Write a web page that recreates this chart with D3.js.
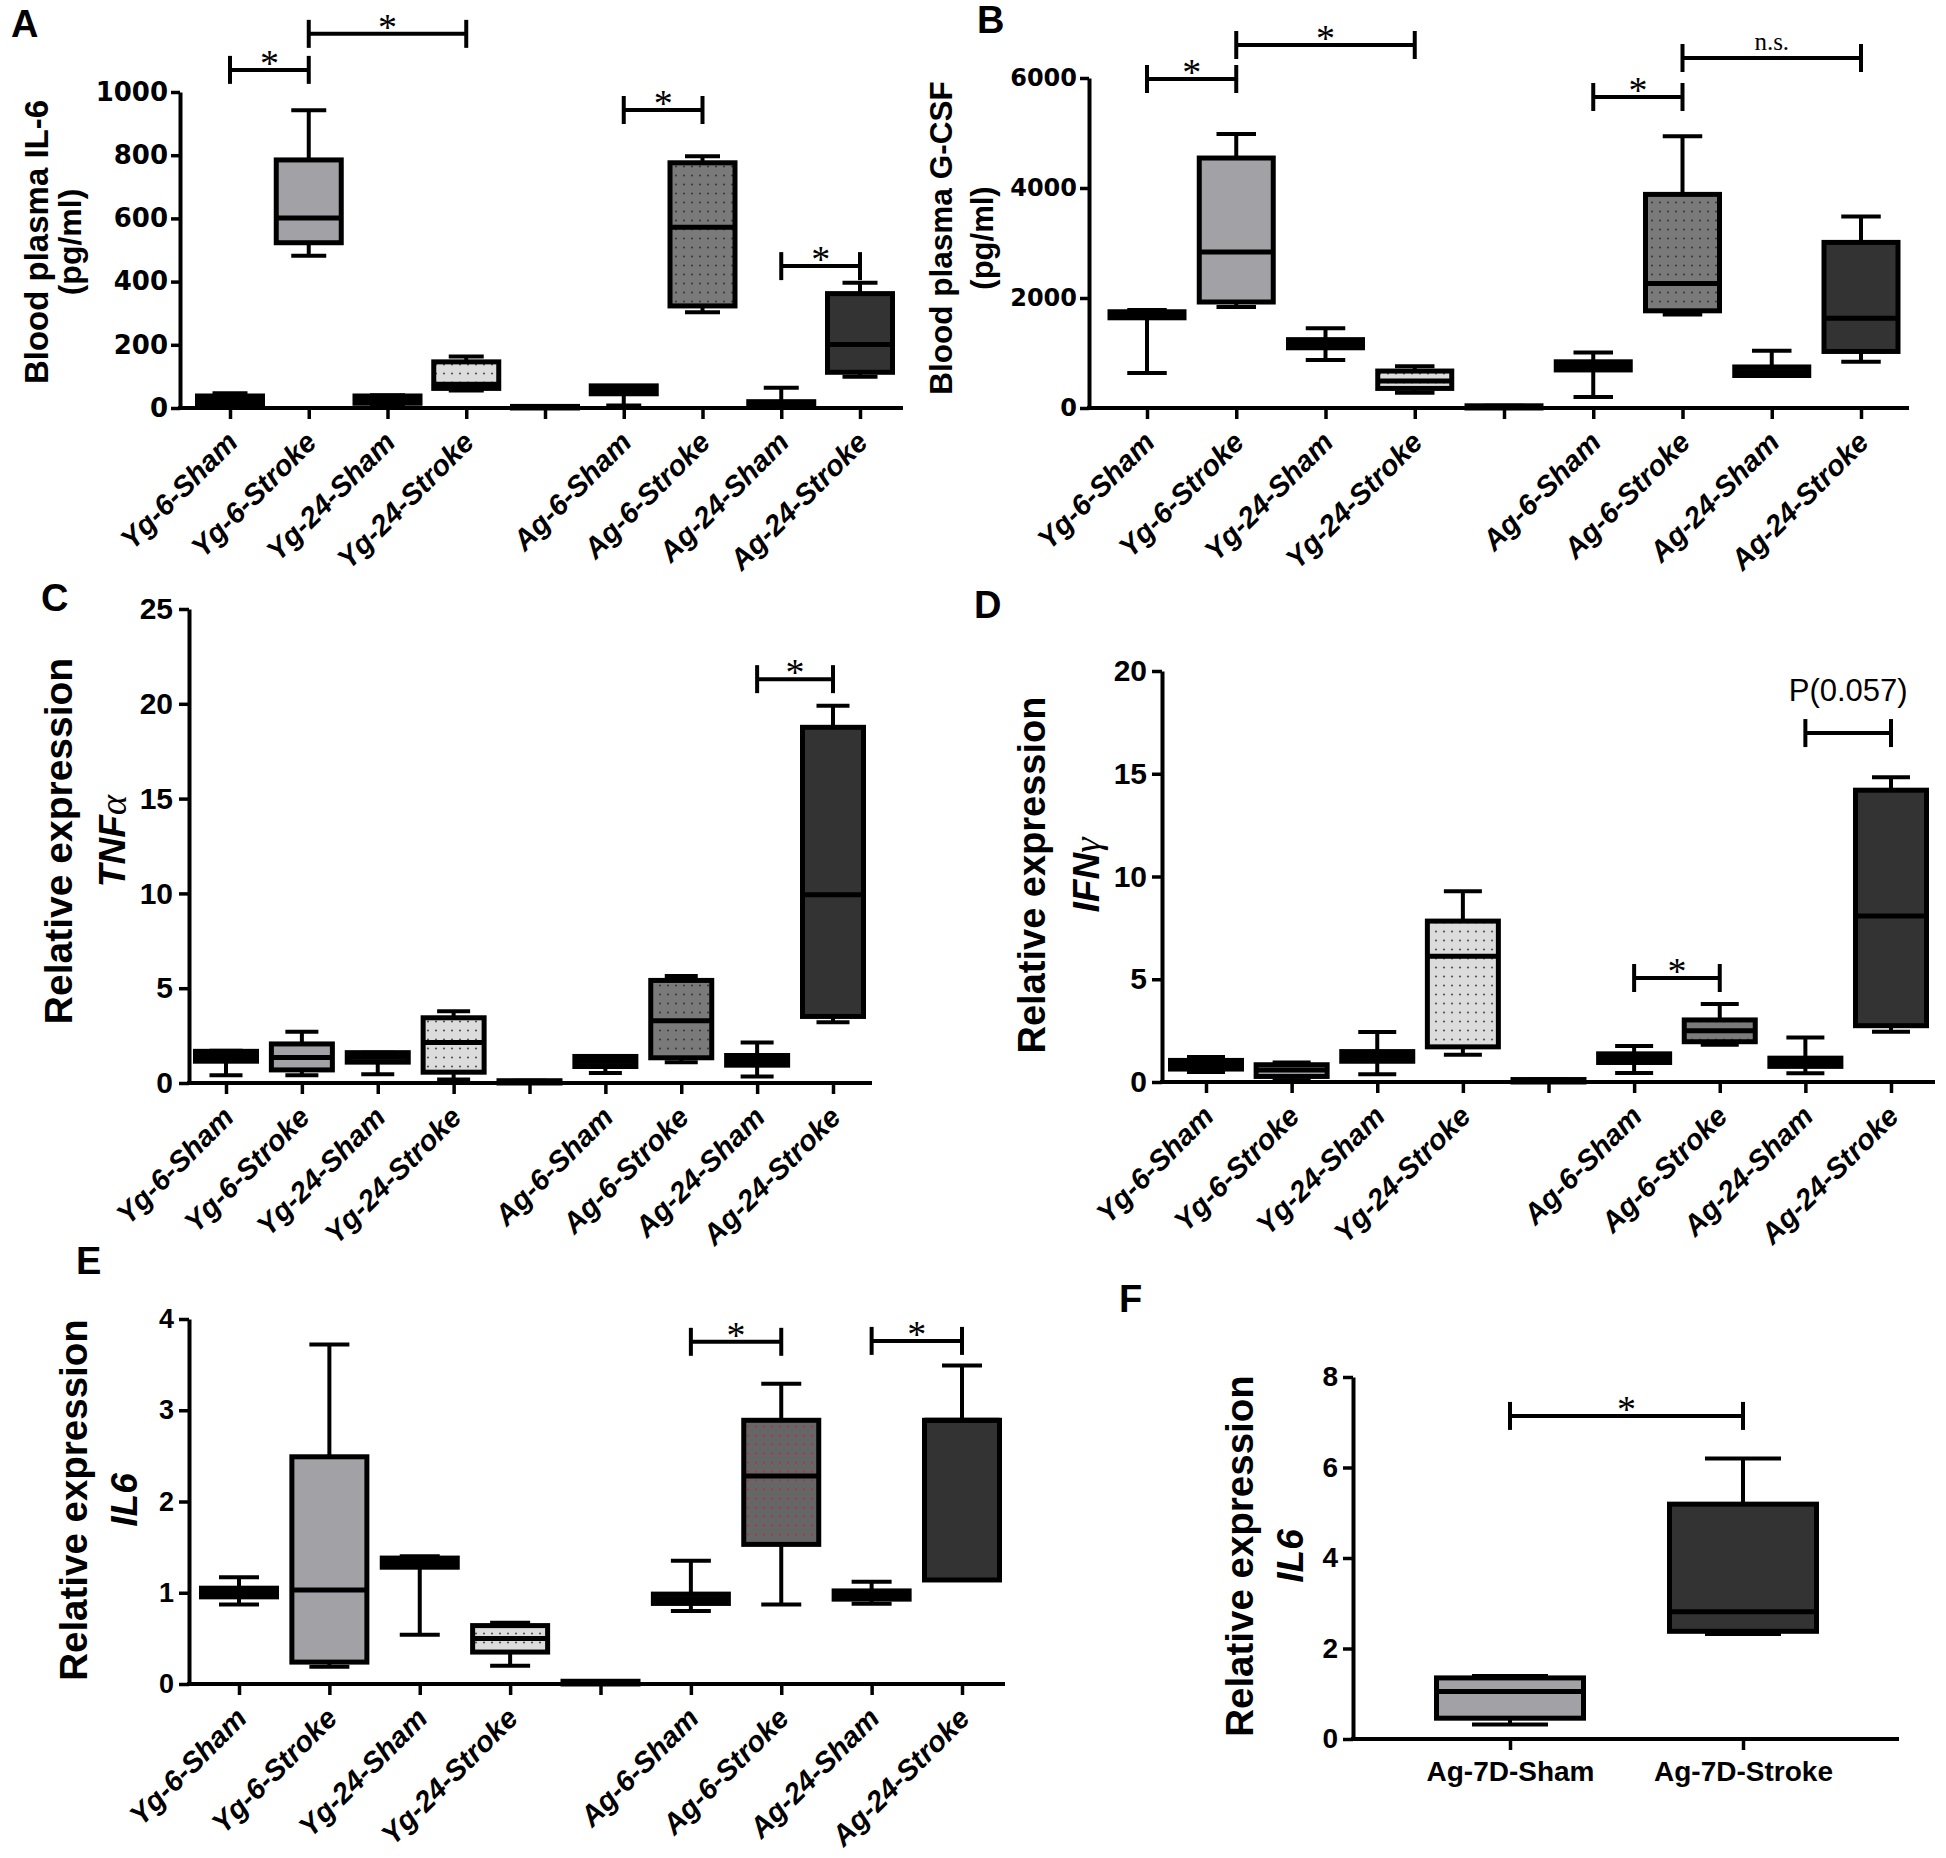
<!DOCTYPE html>
<html><head><meta charset="utf-8">
<script src="https://cdn.jsdelivr.net/npm/d3@7"></script>
<style>body{margin:0;background:#fff}</style>
</head><body>
<svg id="fig" width="1946" height="1858" xmlns="http://www.w3.org/2000/svg"></svg>
<script>
// ---------------- DATA ----------------
const categories = ["Yg-6-Sham","Yg-6-Stroke","Yg-24-Sham","Yg-24-Stroke","","Ag-6-Sham","Ag-6-Stroke","Ag-24-Sham","Ag-24-Stroke"];
const categories7d = ["Ag-7D-Sham","Ag-7D-Stroke"];
// box values: [min, q1, median, q3, max]
const plasmaIL6 = [[5,13,28,38,47],[482,523,601,785,942],[3,15,28,38,40],[55,62,75,146,163],[0,0,2,5,5],[8,45,58,70,70],[303,323,572,776,797],[0,6,12,20,64],[99,113,201,362,396]];
const plasmaGCSF = [[636,1640,1700,1750,1780],[1836,1927,2836,4545,4980],[874,1095,1180,1243,1452],[276,356,490,672,760],[0,0,20,40,40],[202,692,770,840,1008],[1700,1767,2265,3884,4940],[591,591,650,746,1042],[840,1028,1633,3011,3481]];
const exprTNF = [[0.41,1.15,1.4,1.67,1.7],[0.41,0.69,1.35,2.06,2.7],[0.46,1.1,1.4,1.6,1.6],[0.18,0.57,2.13,3.44,3.78],[0,0,0.05,0.12,0.12],[0.53,0.87,1.15,1.4,1.4],[1.1,1.33,3.28,5.41,5.64],[0.34,0.94,1.2,1.45,2.13],[3.21,3.51,9.93,18.76,19.9]];
const exprIFN = [[0.49,0.63,0.85,1.05,1.22],[0.06,0.27,0.59,0.84,0.95],[0.38,1.01,1.25,1.48,2.43],[1.33,1.71,6.12,7.83,9.28],[0,0,0.05,0.12,0.12],[0.44,0.95,1.15,1.37,1.75],[1.81,1.96,2.5,3.02,3.8],[0.42,0.76,0.95,1.16,2.17],[2.45,2.74,8.08,14.2,14.83]];
const exprIL6 = [[0.87,0.955,1.0,1.05,1.17],[0.19,0.24,1.03,2.49,3.72],[0.54,1.28,1.33,1.38,1.40],[0.2,0.35,0.5,0.64,0.67],[0,0,0.01,0.03,0.03],[0.8,0.883,0.93,0.985,1.35],[0.87,1.53,2.28,2.89,3.29],[0.88,0.93,0.97,1.02,1.12],[1.14,1.14,2.89,2.89,3.49]];
const exprIL6_7d = [[0.32,0.46,1.05,1.35,1.39],[2.32,2.38,2.81,5.19,6.2]];
// tick values
const ticksA = [0,200,400,600,800,1000];
const ticksB = [0,2000,4000,6000];
const ticksC = [0,5,10,15,20,25];
const ticksD = [0,5,10,15,20];
const ticksE = [0,1,2,3,4];
const ticksF = [0,2,4,6,8];
// significance brackets: [fromIndex, toIndex, yValue, label]
const bracketsA = [[0,1,1070,"*"],[1,3,1184,"*"],[5,6,943,"*"],[7,8,449,"*"]];
const bracketsB = [[0,1,5982,"*"],[1,3,6600,"*"],[5,6,5655,"*"],[6,8,6364,"n.s."]];
const bracketsC = [[7,8,21.3,"*"]];
const bracketsD = [[5,6,5.06,"*"],[7,8,16.98,"P(0.057)"]];
const bracketsE = [[5,6,3.75,"*"],[7,8,3.76,"*"]];
const bracketsF = [[0,1,7.14,"*"]];

// ---------------- DRAWING ----------------
const svg = d3.select("#fig");
const defs = svg.append("defs");
function dots(id, bg, dot, w, h, r){
  const p = defs.append("pattern").attr("id",id).attr("patternUnits","userSpaceOnUse").attr("width",w).attr("height",h);
  p.append("rect").attr("width",w).attr("height",h).attr("fill",bg);
  p.append("circle").attr("cx",w/2).attr("cy",h/2).attr("r",r).attr("fill",dot);
}
dots("lightDots","#dcdcdc","#555",8,9,1.1);
dots("darkDots","#7a7a7a","#3a3a3a",8,9,1.1);
dots("redDots","#666","#b0304a",8,9,1.1);

const fillsStd = ["#111","#a2a2a6","#111","url(#lightDots)","#111","#111","url(#darkDots)","#111","#333"];
const fillsE = ["#111","#a2a2a6","#111","url(#lightDots)","#111","#111","url(#redDots)","#111","#333"];
const fillsF = ["#a2a2a6","#333"];

const SANS = "'Liberation Sans', Arial, sans-serif";
const DEJA = "'DejaVu Sans', sans-serif";
const SERIF = "'Liberation Serif', 'Times New Roman', serif";

function panel(o){
  const g = svg.append("g");
  const x = d3.scalePoint().domain(o.cats).range(o.xRange);
  const y = d3.scaleLinear().domain([0, o.ticks[o.ticks.length-1]]).range([o.y0, o.yTop]);
  // y axis
  const ya = g.append("g").attr("transform",`translate(${o.axisX},0)`)
    .call(d3.axisLeft(y).tickValues(o.ticks).tickFormat(d=>String(d)).tickSize(o.tickLen).tickSizeOuter(0).tickPadding(o.tickPad));
  ya.select(".domain").attr("stroke","#000").attr("stroke-width",4);
  ya.selectAll(".tick line").attr("stroke","#000").attr("stroke-width",3.5);
  ya.selectAll(".tick text").attr("font-family",o.tickFont).attr("font-weight","bold").attr("font-size",o.tickSize).attr("fill","#000");
  // x axis
  const xa = g.append("g").attr("transform",`translate(0,${o.y0})`)
    .call(d3.axisBottom(x).tickSize(11).tickSizeOuter(0));
  xa.select(".domain").remove();
  xa.selectAll(".tick line").attr("stroke","#000").attr("stroke-width",3.5);
  g.append("line").attr("x1",o.axisX-2).attr("x2",o.axisEnd).attr("y1",o.y0).attr("y2",o.y0).attr("stroke","#000").attr("stroke-width",4);
  const tt = xa.selectAll(".tick text").attr("font-family",SANS).attr("font-weight","bold").attr("font-size",o.xLabelSize).attr("fill","#000");
  if(o.rotate){
    tt.attr("font-style","italic").attr("text-anchor","end").attr("x",null).attr("y",null).attr("dy",null)
      .attr("transform",`translate(${o.lx},${o.ly}) rotate(-45)`);
  } else {
    tt.attr("y",o.ly).attr("dy",null);
  }
  // boxes
  const bw = o.boxW, cw = bw*0.5;
  o.data.forEach((d,i)=>{
    const cx = x(o.cats[i]);
    const [mn,q1,md,q3,mx] = d.map(y);
    const bg = g.append("g");
    const ln = (x1,y1,x2,y2)=>bg.append("line").attr("x1",x1).attr("y1",y1).attr("x2",x2).attr("y2",y2).attr("stroke","#000").attr("stroke-width",4);
    ln(cx,q3,cx,mx); ln(cx,q1,cx,mn);
    ln(cx-cw/2,mx,cx+cw/2,mx); ln(cx-cw/2,mn,cx+cw/2,mn);
    bg.append("rect").attr("x",cx-bw/2+2.5).attr("y",q3).attr("width",bw-5).attr("height",Math.max(q1-q3,0.5))
      .attr("fill",o.fills[i]).attr("stroke","#000").attr("stroke-width",5);
    ln(cx-bw/2+2.5,md,cx+bw/2-2.5,md).attr("stroke-width",5);
  });
  // brackets
  o.brackets.forEach(b=>{
    const x1 = x(o.cats[b[0]]), x2 = x(o.cats[b[1]]), by = y(b[2]);
    const bl = g.append("g").attr("stroke","#000").attr("stroke-width",4);
    bl.append("line").attr("x1",x1).attr("x2",x2).attr("y1",by).attr("y2",by);
    bl.append("line").attr("x1",x1).attr("x2",x1).attr("y1",by-14).attr("y2",by+14);
    bl.append("line").attr("x1",x2).attr("x2",x2).attr("y1",by-14).attr("y2",by+14);
    const t = g.append("text").attr("x",(x1+x2)/2).attr("text-anchor","middle").attr("fill","#000").text(b[3]);
    if(b[3]==="*") t.attr("y",by+6).attr("font-family",SERIF).attr("font-size",38);
    else if(b[3]==="n.s.") t.attr("y",by-8).attr("font-family",SERIF).attr("font-size",25);
    else t.attr("y",by-32).attr("font-family","'Liberation Sans Narrow', "+SANS).attr("font-size",31);
  });
  // y labels
  o.ylabels.forEach(l=>{
    const t = g.append("text").attr("transform",`translate(${l.x},${o.labelY}) rotate(-90)`)
      .attr("text-anchor","middle").attr("dominant-baseline","central")
      .attr("font-family",SANS).attr("font-weight","bold").attr("font-size",l.size).attr("fill","#000");
    if(l.greek){
      t.append("tspan").attr("font-style","italic").text(l.text);
      t.append("tspan").attr("font-family",SERIF).attr("font-style","italic").attr("font-weight","normal").attr("font-size",l.size*1.05).text(l.greek);
    } else {
      t.attr("font-style",l.italic?"italic":"normal").text(l.text);
    }
  });
  // panel letter
  svg.append("text").attr("x",o.letter[1]).attr("y",o.letter[2]).attr("font-family",SANS).attr("font-weight","bold")
    .attr("font-size",38).attr("fill","#000").text(o.letter[0]);
}

panel({cats:categories,data:plasmaIL6,ticks:ticksA,brackets:bracketsA,fills:fillsStd,
  axisX:180,axisEnd:903,y0:408,yTop:92,xRange:[230,860],boxW:70,tickFont:DEJA,tickSize:26,tickLen:9,tickPad:3,
  xLabelSize:29,rotate:true,lx:9,ly:36,labelY:242,
  ylabels:[{text:"Blood plasma IL-6",x:36,size:33},{text:"(pg/ml)",x:70,size:32}],letter:["A",11,37]});
panel({cats:categories,data:plasmaGCSF,ticks:ticksB,brackets:bracketsB,fills:fillsStd,
  axisX:1089,axisEnd:1909,y0:408,yTop:78,xRange:[1147,1861],boxW:79,tickFont:DEJA,tickSize:24,tickLen:9,tickPad:3,
  xLabelSize:29,rotate:true,lx:9,ly:36,labelY:238,
  ylabels:[{text:"Blood plasma G-CSF",x:941,size:31.5},{text:"(pg/ml)",x:982,size:31}],letter:["B",977,33]});
panel({cats:categories,data:exprTNF,ticks:ticksC,brackets:bracketsC,fills:fillsStd,
  axisX:189,axisEnd:872,y0:1083,yTop:609,xRange:[226,833],boxW:66,tickFont:SANS,tickSize:30,tickLen:10,tickPad:6,
  xLabelSize:29,rotate:true,lx:9,ly:36,labelY:841,
  ylabels:[{text:"Relative expression",x:58,size:39},{text:"TNF",greek:"α",x:112,size:37}],letter:["C",41,611]});
panel({cats:categories,data:exprIFN,ticks:ticksD,brackets:bracketsD,fills:fillsStd,
  axisX:1162,axisEnd:1935,y0:1082,yTop:671,xRange:[1206,1891],boxW:76,tickFont:SANS,tickSize:30,tickLen:10,tickPad:5,
  xLabelSize:29,rotate:true,lx:9,ly:36,labelY:875,
  ylabels:[{text:"Relative expression",x:1032,size:38},{text:"IFN",greek:"γ",x:1086,size:37}],letter:["D",974,618]});
panel({cats:categories,data:exprIL6,ticks:ticksE,brackets:bracketsE,fills:fillsE,
  axisX:189,axisEnd:1005,y0:1684,yTop:1319,xRange:[239,962],boxW:80,tickFont:SANS,tickSize:27,tickLen:10,tickPad:5,
  xLabelSize:29,rotate:true,lx:9,ly:36,labelY:1500,
  ylabels:[{text:"Relative expression",x:73,size:38.5},{text:"IL6",italic:true,x:124,size:37}],letter:["E",76,1274]});
panel({cats:categories7d,data:exprIL6_7d,ticks:ticksF,brackets:bracketsF,fills:fillsF,
  axisX:1353,axisEnd:1899,y0:1739,yTop:1377,xRange:[1510,1743],boxW:152,tickFont:SANS,tickSize:28,tickLen:10,tickPad:5,
  xLabelSize:28,rotate:false,lx:0,ly:42,labelY:1556,
  ylabels:[{text:"Relative expression",x:1239,size:38.5},{text:"IL6",italic:true,x:1290,size:37}],letter:["F",1119,1312]});
</script>
</body></html>
